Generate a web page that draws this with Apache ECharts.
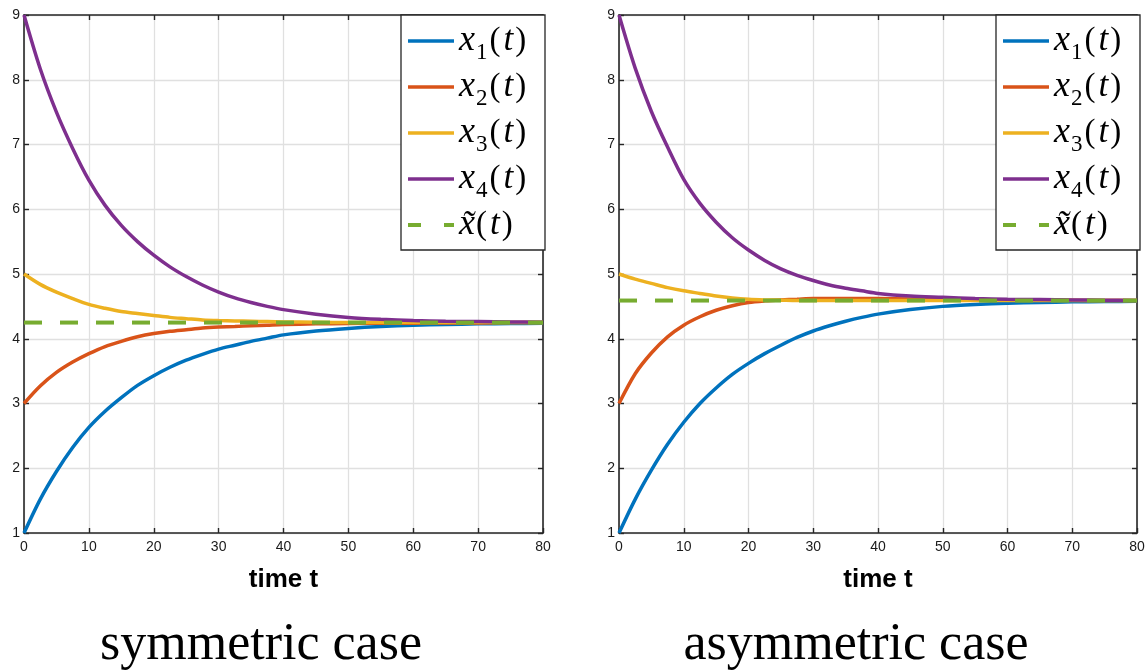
<!DOCTYPE html>
<html>
<head>
<meta charset="utf-8">
<script src="https://cdn.jsdelivr.net/npm/echarts@6/dist/echarts.min.js"></script>
<style>html,body{margin:0;padding:0;background:#fff;}#c{width:1148px;height:672px;}</style>
</head>
<body>
<div id="c"></div>
<script>
// ---- data ----
const tVals = [0, 2.5, 5, 7.5, 10, 12.5, 15, 17.5, 20, 22.5, 25, 27.5, 30, 32.5, 35, 37.5, 40, 45, 50, 55, 60, 65, 70, 75, 80];

const symX1 = [1.00, 1.52, 1.95, 2.32, 2.63, 2.88, 3.09, 3.28, 3.43, 3.56, 3.67, 3.76, 3.84, 3.90, 3.96, 4.01, 4.06, 4.12, 4.16, 4.19, 4.21, 4.22, 4.23, 4.235, 4.24];
const symX2 = [3.00, 3.27, 3.48, 3.64, 3.77, 3.88, 3.96, 4.03, 4.08, 4.115, 4.14, 4.165, 4.18, 4.19, 4.20, 4.21, 4.22, 4.23, 4.235, 4.24, 4.24, 4.245, 4.245, 4.25, 4.25];
const symX3 = [5.00, 4.84, 4.72, 4.62, 4.53, 4.47, 4.42, 4.39, 4.36, 4.33, 4.31, 4.29, 4.28, 4.275, 4.27, 4.265, 4.26, 4.255, 4.25, 4.25, 4.25, 4.25, 4.25, 4.25, 4.25];
const symX4 = [9.00, 8.17, 7.50, 6.94, 6.45, 6.06, 5.75, 5.50, 5.29, 5.11, 4.96, 4.83, 4.72, 4.63, 4.56, 4.50, 4.45, 4.38, 4.33, 4.30, 4.28, 4.27, 4.265, 4.26, 4.255];
const symAvg = 4.25;

const asymX1 = [1.00, 1.52, 1.97, 2.37, 2.71, 3.00, 3.24, 3.45, 3.62, 3.77, 3.90, 4.02, 4.12, 4.20, 4.27, 4.33, 4.38, 4.45, 4.50, 4.53, 4.55, 4.56, 4.57, 4.575, 4.58];
const asymX2 = [3.00, 3.46, 3.78, 4.03, 4.21, 4.34, 4.44, 4.51, 4.56, 4.585, 4.60, 4.61, 4.62, 4.62, 4.62, 4.62, 4.62, 4.615, 4.61, 4.605, 4.60, 4.60, 4.595, 4.59, 4.59];
const asymX3 = [5.00, 4.92, 4.855, 4.79, 4.74, 4.70, 4.66, 4.63, 4.61, 4.60, 4.595, 4.59, 4.59, 4.59, 4.59, 4.59, 4.59, 4.59, 4.59, 4.59, 4.59, 4.59, 4.59, 4.59, 4.59];
const asymX4 = [9.00, 8.18, 7.51, 6.96, 6.46, 6.09, 5.80, 5.56, 5.37, 5.21, 5.08, 4.98, 4.90, 4.83, 4.78, 4.74, 4.70, 4.66, 4.64, 4.62, 4.61, 4.605, 4.60, 4.595, 4.59];
const asymAvg = 4.59;

const panelTitles = ['symmetric case', 'asymmetric case'];
const xAxisTitle = 'time t';
const seriesNames = ['x1', 'x2', 'x3', 'x4', 'xt'];
const colors = ['#0072BD', '#D95319', '#EDB120', '#7E2F8E', '#77AC30'];

// ---- build option ----
const chart = echarts.init(document.getElementById('c'), null, {renderer: 'canvas'});
const axisColor = '#262626';
const gridColor = '#e0e0e0';

function xAx(gi, pos) {
  const main = pos === 'bottom';
  return {
    type: 'value', gridIndex: gi, position: pos, min: 0, max: 80, interval: 10,
    axisLine: {show: true, onZero: false, lineStyle: {color: axisColor, width: 1.6}},
    axisTick: {show: true, inside: true, length: 5, lineStyle: {color: axisColor, width: 1.4}},
    axisLabel: {show: main, margin: 7, fontFamily: 'Liberation Sans', fontSize: 14, color: '#1a1a1a'},
    splitLine: {show: main, lineStyle: {color: gridColor, width: 1.3}},
    name: main ? xAxisTitle : '', nameLocation: 'middle', nameGap: 34,
    nameTextStyle: {fontFamily: 'Liberation Sans', fontWeight: 'bold', fontSize: 26, color: '#000'}
  };
}
function yAx(gi, pos) {
  const main = pos === 'left';
  return {
    type: 'value', gridIndex: gi, position: pos, min: 1, max: 9, interval: 1,
    axisLine: {show: true, onZero: false, lineStyle: {color: axisColor, width: 1.6}},
    axisTick: {show: true, inside: true, length: 5, lineStyle: {color: axisColor, width: 1.4}},
    axisLabel: {show: main, margin: 4, fontFamily: 'Liberation Sans', fontSize: 14, color: '#1a1a1a'},
    splitLine: {show: main, lineStyle: {color: gridColor, width: 1.3}}
  };
}

function mk(name, ys, color, gi) {
  return {
    type: 'line', name: name, xAxisIndex: gi, yAxisIndex: gi,
    data: tVals.map((t, i) => [t, ys[i]]),
    symbol: 'none', smooth: 0.3, silent: true,
    lineStyle: {color: color, width: 3.5}, itemStyle: {color: color}
  };
}
function mkAvg(v, gi) {
  return {
    type: 'line', name: 'xt', xAxisIndex: gi, yAxisIndex: gi,
    data: [[tVals[0], v], [tVals[tVals.length - 1], v]],
    symbol: 'none', silent: true, z: 3,
    lineStyle: {color: colors[4], width: 4, type: [18, 18]}, itemStyle: {color: colors[4]}
  };
}

const serif = 'Liberation Serif';
const rich = {
  v: {fontFamily: serif, fontStyle: 'italic', fontSize: 36, lineHeight: 46, color: '#000', padding: [0, 1, 0, 0]},
  s: {fontFamily: serif, fontSize: 23, lineHeight: 36, verticalAlign: 'bottom', color: '#000', padding: [0, 2, 0, 0]},
  p: {fontFamily: serif, fontSize: 33, lineHeight: 46, color: '#000'},
  t: {fontFamily: serif, fontStyle: 'italic', fontSize: 35, lineHeight: 46, color: '#000', padding: [0, 2, 0, 3]}
};
function legendFmt(name) {
  if (name === 'xt') return '{v|x\u0303}{p|(}{t|t}{p|)}';
  return '{v|x}{s|' + name.slice(1) + '}{p|(}{t|t}{p|)}';
}
function mkLegend(left) {
  return {
    show: true, left: left, top: 15, orient: 'vertical', selectedMode: false,
    backgroundColor: '#fff', borderColor: axisColor, borderWidth: 1.3, borderRadius: 0,
    padding: [3, 4, 2, 5], itemGap: 0, itemWidth: 46, itemHeight: 2,
    itemStyle: {opacity: 0},
    textStyle: {width: 82, rich: rich, lineHeight: 46},
    formatter: legendFmt,
    data: seriesNames.map((n, i) => i === 4
      ? {name: n, lineStyle: {type: [13, 23], width: 4}}
      : {name: n, lineStyle: {width: 3.5}})
  };
}

const option = {
  animation: false,
  backgroundColor: '#fff',
  color: colors,
  grid: [
    {left: 24, top: 15, width: 519, height: 518},
    {left: 619, top: 15, width: 518, height: 518}
  ],
  xAxis: [xAx(0, 'bottom'), xAx(1, 'bottom'), xAx(0, 'top'), xAx(1, 'top')],
  yAxis: [yAx(0, 'left'), yAx(1, 'left'), yAx(0, 'right'), yAx(1, 'right')],
  legend: [mkLegend(401), mkLegend(996)],
  series: [
    mk('x1', symX1, colors[0], 0), mk('x2', symX2, colors[1], 0),
    mk('x3', symX3, colors[2], 0), mk('x4', symX4, colors[3], 0), mkAvg(symAvg, 0),
    mk('x1', asymX1, colors[0], 1), mk('x2', asymX2, colors[1], 1),
    mk('x3', asymX3, colors[2], 1), mk('x4', asymX4, colors[3], 1), mkAvg(asymAvg, 1)
  ],
  graphic: [
    {type: 'text', x: 261, y: 645, style: {text: panelTitles[0], font: '52px "Liberation Serif"', fill: '#000', textAlign: 'center', textVerticalAlign: 'middle'}},
    {type: 'text', x: 856, y: 645, style: {text: panelTitles[1], font: '52px "Liberation Serif"', fill: '#000', textAlign: 'center', textVerticalAlign: 'middle'}}
  ]
};
chart.setOption(option);
</script>
</body>
</html>
